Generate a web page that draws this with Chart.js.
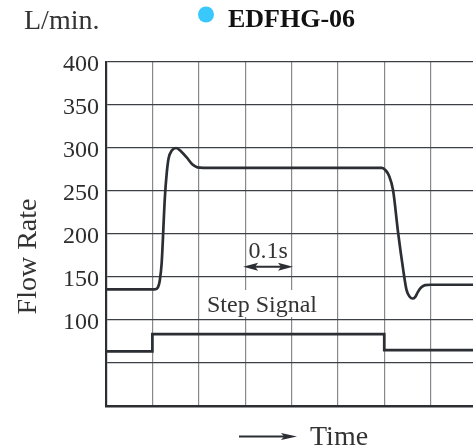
<!DOCTYPE html>
<html>
<head>
<meta charset="utf-8">
<script src="https://cdn.jsdelivr.net/npm/chart.js@4.4.0/dist/chart.umd.min.js"></script>
<style>
  html, body { margin: 0; padding: 0; background: #fff; overflow: hidden; }
  #wrap { position: relative; width: 478px; height: 448px; }
</style>
</head>
<body>
<div id="wrap"><canvas id="myChart"></canvas></div>
<script>
// time axis in grid divisions (one division = 0.1 s), flow in L/min
var timeFlow = [0, 1.05, 1.12, 1.16, 1.2, 1.27, 1.31, 1.35, 1.42, 1.51, 1.62, 1.74, 1.86, 1.97, 2.1,
                5.95, 6.03, 6.1, 6.19, 6.3, 6.41, 6.48, 6.55, 6.61, 6.67, 6.73, 6.8, 6.88, 7.0, 8.0];
var flowRate = [135.5, 135.5, 138, 146, 166, 243, 271, 288, 297, 300, 296, 289, 281, 277.5, 277,
                277, 274, 268, 251, 201, 158, 135, 127, 125, 127, 133, 138, 140.5, 141, 141];
var timeStep = [0, 1, 1, 6, 6, 8];
var stepSignal = [63.5, 63.5, 83.5, 83.5, 65, 65];
var yTickLabels = [100, 150, 200, 250, 300, 350, 400];

var serif = '"Liberation Serif", "Times New Roman", serif';
var ink = '#2b2e33';

function pts(xs, ys) {
    return xs.map(function (x, i) { return { x: x, y: ys[i] }; });
}

function arrowHead(c, x, y, dir, len, half) {
    c.beginPath();
    c.moveTo(x, y);
    c.lineTo(x - dir * len, y - half);
    c.lineTo(x - dir * len * 0.8, y);
    c.lineTo(x - dir * len, y + half);
    c.closePath();
    c.fill();
}

var annotations = {
    id: 'annotations',
    beforeDatasetsDraw: function (chart) {
        var c = chart.ctx;
        c.save();
        c.fillStyle = '#fff';
        c.fillRect(205, 290, 114, 27);
        c.restore();
    },
    afterDraw: function (chart) {
        var c = chart.ctx;
        var xs = chart.scales.x, ys = chart.scales.y;
        c.save();
        c.fillStyle = '#333';
        c.textBaseline = 'alphabetic';

        c.font = '28px ' + serif;
        c.textAlign = 'left';
        c.fillText('L/min.', 24, 29);

        c.fillStyle = '#38c8fb';
        c.beginPath();
        c.arc(206, 14.5, 8, 0, Math.PI * 2);
        c.fill();

        c.fillStyle = '#111';
        c.font = 'bold 26px ' + serif;
        c.fillText('EDFHG-06', 228, 27);

        c.fillStyle = '#333';
        c.save();
        c.translate(36, 256.5);
        c.rotate(-Math.PI / 2);
        c.textAlign = 'center';
        c.font = '28px ' + serif;
        c.fillText('Flow Rate', 0, 0);
        c.restore();

        // 0.1 s marker
        var x3 = xs.getPixelForValue(3) - 2, x4 = xs.getPixelForValue(4) + 1.5;
        var ya = ys.getPixelForValue(162);
        c.textAlign = 'center';
        c.font = '24px ' + serif;
        c.fillText('0.1s', (x3 + x4) / 2, 258);
        c.strokeStyle = ink;
        c.fillStyle = ink;
        c.lineWidth = 2;
        c.beginPath();
        c.moveTo(x3 + 6, ya);
        c.lineTo(x4 - 6, ya);
        c.stroke();
        arrowHead(c, x3, ya, -1, 15, 4);
        arrowHead(c, x4, ya, 1, 15, 4);

        c.fillStyle = '#333';
        c.fillText('Step Signal', 262, 311.5);

        // time arrow
        c.font = '28px ' + serif;
        c.textAlign = 'left';
        c.fillText('Time', 310, 445);
        c.fillStyle = ink;
        c.lineWidth = 2;
        c.beginPath();
        c.moveTo(239, 436.5);
        c.lineTo(288, 436.5);
        c.stroke();
        arrowHead(c, 297, 436.5, 1, 16, 3.5);
        c.restore();
    }
};

Chart.defaults.font.family = serif;
Chart.defaults.color = '#333';

var ctx = document.getElementById('myChart').getContext('2d');
var myChart = new Chart(ctx, {
    type: 'line',
    data: {
        datasets: [{
            label: 'EDFHG-06',
            data: pts(timeFlow, flowRate),
            borderColor: ink,
            borderWidth: 2.7,
            pointRadius: 0,
            cubicInterpolationMode: 'monotone',
            fill: false
        }, {
            label: 'Step Signal',
            data: pts(timeStep, stepSignal),
            borderColor: ink,
            borderWidth: 2.7,
            pointRadius: 0,
            tension: 0,
            fill: false
        }]
    },
    options: {
        responsive: true,
        maintainAspectRatio: false,
        animation: false,
        layout: { padding: { top: 62, left: 0, right: 1, bottom: 42 } },
        plugins: {
            legend: { display: false },
            tooltip: { enabled: false }
        },
        scales: {
            x: {
                type: 'linear',
                min: 0,
                max: 8,
                ticks: { stepSize: 1, display: false },
                grid: { color: '#85898e', lineWidth: 1.2, drawTicks: false },
                border: { display: true, color: ink, width: 2.5 }
            },
            y: {
                min: 0,
                max: 400,
                afterFit: function (s) { s.width = 106; },
                ticks: {
                    stepSize: 50,
                    padding: 7,
                    labelOffset: 3,
                    color: '#2d2d2d',
                    font: { size: 24, family: serif },
                    callback: function (v) { return yTickLabels.indexOf(v) >= 0 ? String(v) : ''; }
                },
                grid: { color: '#3c4046', lineWidth: 1.2, drawTicks: false },
                border: { display: true, color: ink, width: 2.2 }
            }
        }
    },
    plugins: [annotations]
});
</script>
</body>
</html>
